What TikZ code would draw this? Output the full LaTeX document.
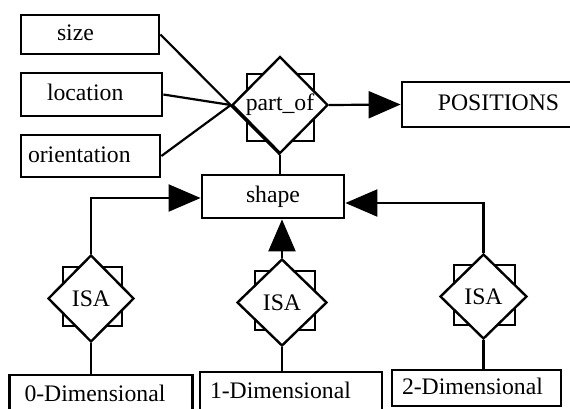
\documentclass[tikz,border=0pt]{standalone}
\usepackage{fontspec}
\setmainfont{Liberation Serif}
\usetikzlibrary{shapes.geometric,arrows.meta,backgrounds,calc}
\begin{document}
\begin{tikzpicture}[x=1pt,y=-1pt,
  font=\fontsize{23.7}{28}\selectfont,
  ent/.style={draw,rectangle,line width=2.8pt,text height=16pt,text depth=4pt,inner ysep=0pt},
  lbox/.style 2 args={ent,align=left,text width=#1,inner xsep=#2},
  rel/.style={draw,diamond,aspect=1,fill=white,line width=2.4pt,inner sep=0pt},
  sq/.style={draw,rectangle,line width=2.4pt,inner sep=0pt},
  conn/.style={line width=2.2pt},
  arr/.style={conn,-{Triangle[length=32pt,width=27pt]}}
]
\useasboundingbox (0,0) rectangle (570,408);
\begin{scope}
\clip (0,0) rectangle (570,408);
% attribute boxes
\node[lbox={66pt}{36pt},minimum height=39pt] (size) at (90,34.5) {size};
\node[lbox={89pt}{26pt},minimum height=43pt] (location) at (91.5,94.5) {location};
\node[lbox={125pt}{7pt},minimum height=42pt] (orient) at (90.5,156) {orientation};
% entity boxes
\node[ent,minimum width=193pt,minimum height=45pt] (positions) at (498.5,104.5) {POSITIONS};
\node[ent,minimum width=142pt,minimum height=43pt] (shape) at (273,196.5) {shape};
\node[lbox={153pt}{15pt},minimum height=40pt] (d0) at (101,395) {0-Dimensional};
\node[lbox={162pt}{10pt},minimum height=40pt] (d1) at (291,392) {1-Dimensional};
\node[lbox={149pt}{10pt},minimum height=36pt] (d2) at (476.5,388) {2-Dimensional};
% relationship diamonds with their squares
\node[sq,minimum size=67pt] (pofsq) at (280.5,107.5) {};
\node[rel,minimum width=96pt,minimum height=97pt] (partof) at (280,105) {part\_of};
\node[sq,minimum size=59pt] (isa1sq) at (92.5,296.5) {};
\node[rel,minimum width=86pt,minimum height=87pt] (isa1) at (91,298.5) {ISA};
\node[sq,minimum width=60pt,minimum height=59pt] (isa2sq) at (285,300.5) {};
\node[rel,minimum width=90pt,minimum height=87pt] (isa2) at (282,302.5) {ISA};
\node[sq,minimum width=61pt,minimum height=60pt] (isa3sq) at (484.5,295) {};
\node[rel,minimum width=87pt,minimum height=85pt] (isa3) at (483.5,296.5) {ISA};
\end{scope}
\begin{scope}[on background layer]
\draw[conn] (size.east) -- (partof.south);
\draw[conn] (location.east) -- (partof.west);
\draw[conn] (orient.east) -- (partof.west);
\draw[arr] (partof.east) -- (positions.west);
\draw[conn] (partof.south) -- (partof.south |- shape.north);
\draw[arr] (isa1.north) |- ($(shape.west)+(0,1.5)$);
\draw[arr] (isa2.north) -- (isa2.north |- shape.south);
\draw[arr] (isa3.north) |- ($(shape.east)+(0,6.5)$);
\draw[conn] (isa1.south) -- (isa1.south |- d0.north);
\draw[conn] (isa2.south) -- (isa2.south |- d1.north);
\draw[conn] (isa3.south) -- (isa3.south |- d2.north);
\end{scope}
\end{tikzpicture}
\end{document}
